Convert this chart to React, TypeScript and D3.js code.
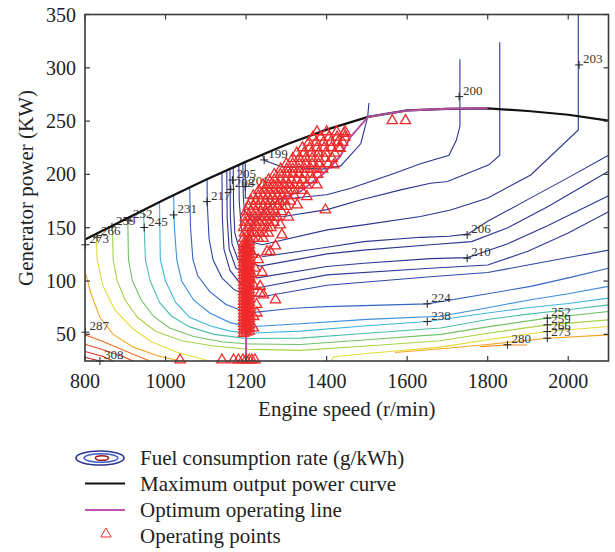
import React from "react";
import * as d3 from "d3";

const xTicks = [800, 1000, 1200, 1400, 1600, 1800, 2000];
const yTicks = [50, 100, 150, 200, 250, 300, 350];

// maximum output power curve, [speed r/min, power kW]
const maxPowerCurve = [
  [800, 139], [900, 158], [1000, 177], [1100, 195], [1200, 212], [1300, 228], [1400, 242],
  [1503, 254], [1600, 260], [1700, 261.5], [1800, 262], [1900, 259.5], [2000, 256], [2100, 250.5],
];

const optimumLine = [
  [1200, 25], [1200, 130], [1205, 142], [1220, 155], [1250, 168], [1290, 178], [1335, 184],
  [1393, 201], [1434, 217], [1459, 235], [1503, 254], [1600, 260], [1700, 261.5], [1800, 262],
];

// fuel consumption contours (g/kWh), one entry per drawn piece
const contourLevels = [199, 200, 201, 203, 206, 208, 210, 213, 217, 224, 231, 238, 245, 252, 259, 266, 266, 273, 273, 280, 287, 294, 301, 308];
const contourPaths = [
  [[1240, 218.6], [1246, 213], [1290, 207], [1390, 205], [1435, 208], [1485, 229], [1502, 254], [1505, 267]],
  [[1198, 211.6], [1198, 178], [1250, 177], [1295, 177], [1400, 181], [1460, 187], [1560, 200], [1633, 210], [1704, 218], [1722, 232], [1731, 245], [1731, 308]],
  [[1192, 210.5], [1193, 180], [1196, 165], [1215, 160], [1293, 160.5], [1401, 167], [1484, 176], [1584, 185.5], [1658, 191.7], [1700, 193.3], [1803, 209], [1830, 218], [1830, 324]],
  [[1182, 209], [1183, 175], [1188, 150], [1200, 138], [1240, 134], [1401, 148], [1492, 152.7], [1633, 160.5], [1708, 166.7], [1799, 177.7], [1907, 199.5], [2025, 241.7], [2025, 350]],
  [[1168, 206.5], [1169, 170], [1172, 145], [1185, 128], [1244, 123], [1401, 131.7], [1492, 137], [1633, 141], [1704, 142], [1750, 144], [1800, 156], [1907, 178], [2000, 197], [2100, 218]],
  [[1160, 205.5], [1161, 160], [1165, 135], [1180, 120], [1235, 114], [1401, 125.5], [1492, 129], [1658, 134], [1760, 137], [1850, 150], [1950, 170], [2100, 203]],
  [[1152, 204], [1153, 160], [1158, 130], [1175, 112], [1227, 103], [1401, 113.6], [1492, 116.7], [1658, 121], [1750, 122], [1850, 135], [1950, 152], [2100, 180]],
  [[1140, 202], [1141, 160], [1145, 130], [1160, 110], [1185, 98], [1219, 93], [1401, 105.8], [1658, 112], [1800, 115], [1900, 128], [2000, 145], [2100, 165]],
  [[1103, 195.5], [1104, 170], [1108, 140], [1118, 120], [1140, 103], [1170, 92], [1205, 86], [1243, 85.5], [1401, 96], [1658, 104], [1800, 108], [1900, 115], [2000, 122], [2100, 129]],
  [[1060, 188], [1062, 150], [1068, 120], [1080, 105], [1110, 90], [1150, 78], [1205, 70], [1318, 74.5], [1400, 76], [1650, 78.6], [1800, 88], [1907, 95], [2000, 103], [2100, 112]],
  [[1020, 180.5], [1022, 150], [1028, 120], [1040, 100], [1070, 82], [1110, 70], [1160, 61], [1205, 57], [1335, 60], [1500, 64], [1683, 67], [1800, 75], [1900, 82], [2000, 88], [2100, 95]],
  [[985, 174], [987, 120], [1000, 100], [1025, 80], [1060, 66], [1110, 58], [1160, 53], [1205, 51], [1335, 53], [1500, 58], [1650, 62], [1800, 70], [1900, 75], [2000, 79], [2100, 84]],
  [[945, 166.5], [947, 150], [950, 120], [962, 100], [985, 80], [1015, 67], [1060, 57], [1120, 50], [1205, 46], [1335, 46.5], [1500, 51], [1683, 56], [1800, 64], [1900, 69], [2000, 73], [2100, 77.6]],
  [[906, 159], [908, 120], [918, 100], [940, 82], [970, 67], [1010, 56], [1070, 48], [1140, 43], [1205, 41], [1335, 40.5], [1500, 45], [1683, 50], [1800, 57], [1948, 65.2], [2100, 71.4]],
  [[868, 152], [870, 120], [880, 100], [900, 82], [930, 66], [975, 53], [1040, 44], [1120, 39], [1205, 36], [1335, 35], [1500, 39], [1683, 44], [1800, 51], [1948, 58.9], [2100, 63.6]],
  [[828, 144], [830, 120], [845, 95], [874, 73], [920, 55], [965, 43], [1030, 33], [1110, 25]],
  [[1410, 25], [1418, 29], [1500, 32], [1683, 38], [1800, 45], [1948, 52.6], [2100, 57.3]],
  [[800, 109], [815, 88], [837, 66], [870, 50], [920, 38], [980, 30], [1036, 25]],
  [[1570, 33], [1700, 37], [1800, 40.5], [1948, 46.4], [2100, 49.5]],
  [[1782, 38.5], [1849, 40], [1898, 40]],
  [[800, 49.5], [845, 43.3], [903, 34], [961, 25]],
  [[800, 40.8], [845, 35.5], [894, 29.2], [919, 25]],
  [[800, 33.9], [845, 29.2], [870, 25]],
  [[800, 28.5], [837, 25]],
];

// contour labels: text and the cross it hangs on
const labelTexts = ["199", "200", "203", "205", "201", "208", "217", "231", "245", "252", "259", "266", "273", "287", "308", "206", "210", "224", "238", "252", "259", "266", "273", "280"];
const labelCrosses = [
  [1245, 213.6], [1729, 273], [2027, 302.7], [1166, 194.7], [1198, 188.6], [1162, 186], [1103, 174.5], [1020, 162],
  [947, 150.2], [909, 157], [867, 150.8], [830, 141], [801, 134], [801, 52], [837, 25], [1749, 143.3],
  [1749, 121.4], [1650, 78.6], [1650, 62], [1948, 65.2], [1948, 58.9], [1948, 52.6], [1948, 46.4], [1849, 40.2],
];

// operating points at ~1200 r/min, [speed, power]
const stripPoints = [
  [1194, 51], [1194, 54], [1194, 57], [1194, 60], [1194, 63], [1194, 66], [1194, 69], [1194, 72], [1194, 75], [1194, 78],
  [1194, 81], [1194, 84], [1194, 87], [1194, 90], [1194, 93], [1194, 96], [1194, 99], [1194, 102], [1194, 105], [1194, 108],
  [1194, 111], [1194, 114], [1194, 117], [1194, 120], [1194, 123], [1194, 126], [1194, 129], [1194, 132], [1194, 135],
  [1201, 52], [1201, 55], [1201, 58], [1201, 61], [1201, 64], [1201, 67], [1201, 70], [1201, 73], [1201, 76], [1201, 79],
  [1201, 82], [1201, 85], [1201, 88], [1201, 91], [1201, 94], [1201, 97], [1201, 100], [1201, 103], [1201, 106], [1201, 109],
  [1201, 112], [1201, 115], [1201, 118], [1201, 121], [1201, 124], [1201, 127], [1201, 130], [1201, 133], [1201, 136],
  [1208, 53], [1208, 56], [1208, 59], [1208, 62], [1208, 65], [1208, 68], [1208, 71], [1208, 74], [1208, 77], [1208, 80],
  [1208, 83], [1208, 86], [1208, 89], [1208, 92], [1208, 95], [1208, 98], [1208, 101], [1208, 104], [1208, 107], [1208, 110],
  [1208, 113], [1208, 116], [1208, 119], [1208, 122], [1208, 125], [1208, 128], [1208, 131], [1208, 134], [1208, 137],
];

// operating points in the band rising to the max-power curve
const bandPoints = [
  [1194, 140], [1206, 140], [1218, 140], [1230, 140], [1242, 140],
  [1196, 145], [1208, 145], [1220, 145], [1232, 145], [1244, 145], [1255, 145],
  [1194, 150], [1206, 150], [1218, 150], [1230, 150], [1242, 150], [1254, 150], [1262, 150],
  [1197, 155], [1209, 155], [1221, 155], [1233, 155], [1245, 155], [1257, 155], [1269, 155],
  [1198, 160], [1210, 160], [1222, 160], [1234, 160], [1246, 160], [1258, 160], [1270, 160], [1278, 160],
  [1200, 165], [1212, 165], [1224, 165], [1236, 165], [1248, 165], [1260, 165], [1272, 165], [1288, 165],
  [1206, 170], [1218, 170], [1230, 170], [1242, 170], [1254, 170], [1266, 170], [1278, 170], [1290, 170], [1300, 170],
  [1212, 175], [1224, 175], [1236, 175], [1248, 175], [1260, 175], [1272, 175], [1284, 175], [1296, 175], [1310, 175],
  [1218, 180], [1230, 180], [1242, 180], [1254, 180], [1266, 180], [1278, 180], [1290, 180], [1302, 180], [1320, 180],
  [1232, 185], [1244, 185], [1256, 185], [1268, 185], [1280, 185], [1292, 185], [1304, 185], [1318, 185], [1338, 185],
  [1242, 190], [1255, 190], [1268, 190], [1281, 190], [1294, 190], [1307, 190], [1320, 190], [1335, 190], [1350, 190],
  [1256, 195], [1270, 195], [1284, 195], [1298, 195], [1312, 195], [1326, 195], [1340, 195], [1364, 195],
  [1270, 200], [1285, 200], [1300, 200], [1315, 200], [1330, 200], [1345, 200], [1360, 200], [1378, 200],
  [1286, 205], [1301, 205], [1316, 205], [1331, 205], [1346, 205], [1361, 205], [1376, 205], [1390, 205],
  [1300, 210], [1316, 210], [1332, 210], [1348, 210], [1364, 210], [1380, 210], [1404, 210],
  [1316, 215], [1332, 215], [1348, 215], [1364, 215], [1380, 215], [1396, 215], [1414, 215],
  [1326, 220], [1344, 220], [1362, 220], [1380, 220], [1398, 220], [1420, 220],
  [1340, 225], [1358, 225], [1376, 225], [1394, 225], [1412, 225], [1430, 225],
  [1356, 230], [1374, 230], [1392, 230], [1410, 230], [1428, 230], [1440, 230],
  [1366, 235], [1386, 235], [1406, 235], [1426, 235], [1445, 235],
  [1376, 240], [1400, 240], [1425, 240], [1446, 240],
];

// scattered operating points
const scatterPoints = [
  [1218, 56], [1219, 66.7], [1227, 70], [1243, 87], [1235, 88.6], [1273, 82.4], [1219, 96], [1214, 106], [1235, 95], [1252, 127.6],
  [1260, 127.7], [1289, 143.3], [1285, 152.7], [1273, 133], [1222, 112], [1230, 120], [1216, 125], [1240, 108], [1226, 78],
  [1397, 166.7], [1351, 179.2], [1327, 171.4], [1305, 160], [1376, 190.1], [1418, 209], [1434, 224.5], [1443, 238.6],
  [1563, 250.5], [1596, 250.5],
  [1036, 26], [1140, 26], [1169, 26], [1181, 26], [1192, 26], [1200, 26], [1208, 26], [1214, 26], [1222, 26],
];

const legendLabels = [
  "Fuel consumption rate (g/kWh)",
  "Maximum output power curve",
  "Optimum operating line",
  "Operating points",
];

const W = 615;
const H = 552;
const M = { left: 85, right: 608.5, top: 14.5, bottom: 361 };
const serif = "'Liberation Serif', 'Times New Roman', serif";

export default function App() {
  const x = d3.scaleLinear().domain([800, 2100]).range([M.left, M.right]);
  const y = d3.scaleLinear().domain([25, 350]).range([M.bottom, M.top]);

  const levelColor = d3
    .scaleOrdinal<number, string>()
    .domain([199, 200, 201, 203, 206, 208, 210, 213, 217, 224, 231, 238, 245, 252, 259, 266, 273, 280, 287, 294, 301, 308])
    .range([
      "#2c3590", "#2c3590", "#2c3590", "#2c3590", "#2c3590", "#2c3590", "#2c3590", "#2d3a96",
      "#2f48a8", "#3465c0", "#3a8fdb", "#3cb7de", "#4dbfa8", "#72c265", "#a8d146", "#e2dc36",
      "#f4a623", "#f08a20", "#ee6a20", "#e8451d", "#dc2a1c", "#c81a18",
    ]);

  const line = d3
    .line<number[]>()
    .x((d) => x(d[0]))
    .y((d) => y(d[1]));

  const tri = d3.symbol().type(d3.symbolTriangle).size(46)() || "";
  const operatingPoints = [...stripPoints, ...bandPoints, ...scatterPoints];

  return (
    <svg width={W} height={H} style={{ position: "absolute", left: 0, top: 0 }} fontFamily={serif}>
      <rect width={W} height={H} fill="#fff" />
      <defs>
        <clipPath id="plot">
          <rect x={M.left} y={M.top} width={M.right - M.left} height={M.bottom - M.top} />
        </clipPath>
      </defs>

      <g clipPath="url(#plot)">
        {contourPaths.map((pts, i) => (
          <path key={i} d={line(pts) || ""} fill="none" stroke={levelColor(contourLevels[i])} strokeWidth={1.1} />
        ))}
      </g>

      {labelCrosses.map((c, i) => (
        <g key={i} transform={`translate(${x(c[0])},${y(c[1])})`}>
          <path d="M-4,0H4M0,-4V4" stroke="#222" strokeWidth={1} />
          <text x={4} y={-2} fontSize={13} fill="#333">
            {labelTexts[i]}
          </text>
        </g>
      ))}

      <g clipPath="url(#plot)">
        <path d={line(maxPowerCurve) || ""} fill="none" stroke="#111" strokeWidth={2.2} />
        <path d={line(optimumLine) || ""} fill="none" stroke="#b54fa6" strokeWidth={2} />
      </g>

      {operatingPoints.map((p, i) => (
        <path
          key={i}
          d={tri}
          transform={`translate(${x(p[0])},${y(p[1])})`}
          fill="none"
          stroke="#ee2a2a"
          strokeWidth={1.3}
        />
      ))}

      {/* axes box with inward ticks */}
      <rect
        x={M.left}
        y={M.top}
        width={M.right - M.left}
        height={M.bottom - M.top}
        fill="none"
        stroke="#3a3a3a"
        strokeWidth={1.6}
      />
      {xTicks.map((t) => (
        <g key={t}>
          <line x1={x(t)} x2={x(t)} y1={M.bottom} y2={M.bottom - 5} stroke="#3a3a3a" strokeWidth={1.2} />
          <line x1={x(t)} x2={x(t)} y1={M.top} y2={M.top + 5} stroke="#3a3a3a" strokeWidth={1.2} />
          <text x={x(t)} y={388} textAnchor="middle" fontSize={20} fill="#222">
            {t}
          </text>
        </g>
      ))}
      {yTicks.map((t) => (
        <g key={t}>
          <line x1={M.left} x2={M.left + 5} y1={y(t)} y2={y(t)} stroke="#3a3a3a" strokeWidth={1.2} />
          <line x1={M.right} x2={M.right - 5} y1={y(t)} y2={y(t)} stroke="#3a3a3a" strokeWidth={1.2} />
          <text x={76} y={y(t)} dy="0.35em" textAnchor="end" fontSize={20} fill="#222">
            {t}
          </text>
        </g>
      ))}

      <text x={(M.left + M.right) / 2} y={416} textAnchor="middle" fontSize={21} fill="#222">
        Engine speed (r/min)
      </text>
      <text transform="translate(33,188) rotate(-90)" textAnchor="middle" fontSize={21} fill="#222">
        Generator power (KW)
      </text>

      {/* legend */}
      <g>
        <ellipse cx={100} cy={458} rx={24} ry={7} fill="none" stroke="#2c3590" strokeWidth={1.6} />
        <ellipse cx={101} cy={458} rx={17} ry={4.3} fill="none" stroke="#3a5cc6" strokeWidth={1.4} />
        <ellipse cx={102} cy={458} rx={6.5} ry={2.3} fill="none" stroke="#a51b1b" strokeWidth={1.6} />
        <line x1={85} x2={125} y1={483.5} y2={483.5} stroke="#111" strokeWidth={2} />
        <line x1={85} x2={125} y1={510} y2={510} stroke="#c050b0" strokeWidth={2} />
        <path d={tri} transform="translate(106,534)" fill="none" stroke="#ee2a2a" strokeWidth={1} />
        {legendLabels.map((t, i) => (
          <text key={t} x={140} y={465 + i * 26} fontSize={21} fill="#222">
            {t}
          </text>
        ))}
      </g>
    </svg>
  );
}
